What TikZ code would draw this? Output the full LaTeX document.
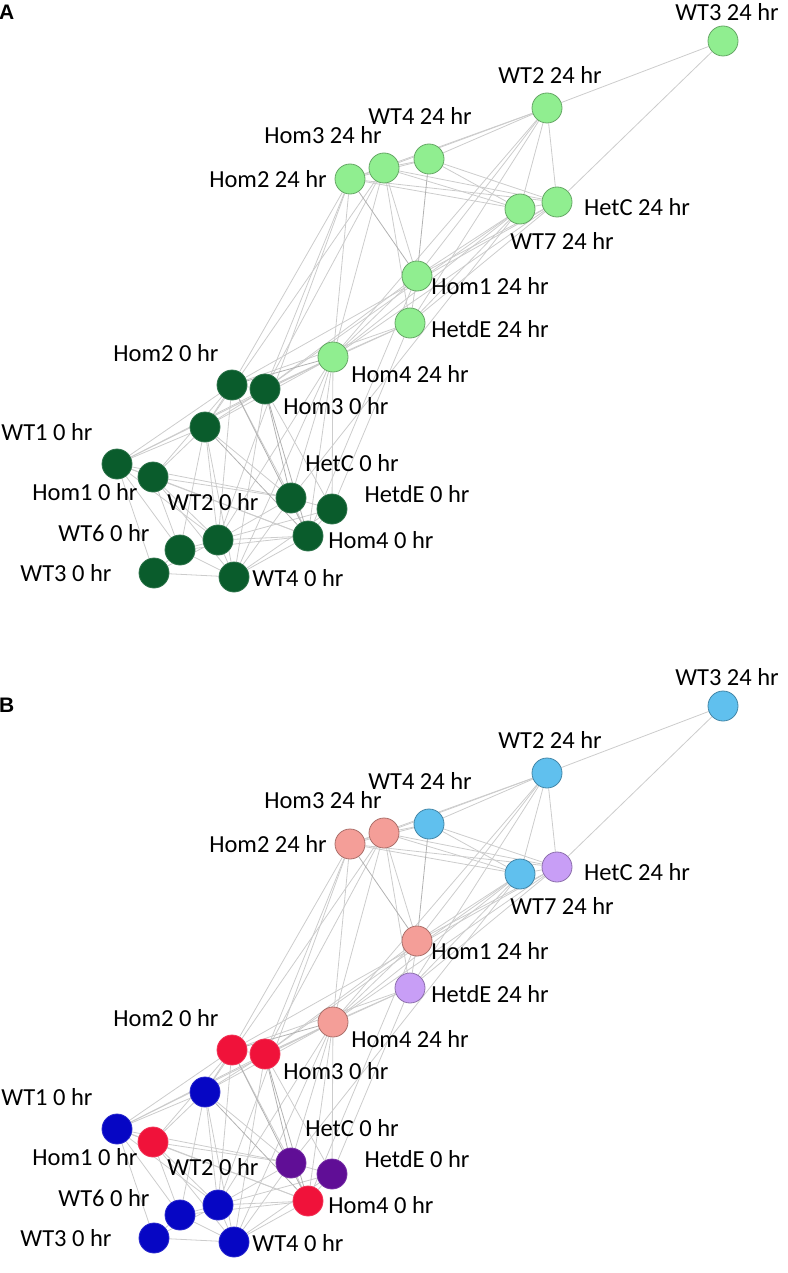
\documentclass[tikz,border=0pt]{standalone}
\usepackage{fontspec}
\setmainfont{Carlito}
\newfontfamily\panelfont{Liberation Sans}
\usetikzlibrary{backgrounds}

\definecolor{lgreen}{RGB}{144,238,144}
\definecolor{dgreen}{RGB}{10,92,44}
\definecolor{skyblue}{RGB}{96,192,238}
\definecolor{salmon}{RGB}{244,158,152}
\definecolor{lavender}{RGB}{200,158,246}
\definecolor{wtblue}{RGB}{6,6,196}
\definecolor{homred}{RGB}{240,18,58}
\definecolor{hetpurple}{RGB}{96,14,150}

% the network, drawn once per panel
\newcommand{\network}{%
  % 24 hr
  \node[wt24] (wt3-24) at (723,41) {};
  \node[wt24] (wt2-24) at (547,108) {};
  \node[wt24] (wt4-24) at (429,159) {};
  \node[hom24] (hom3-24) at (384,168) {};
  \node[hom24] (hom2-24) at (350,179) {};
  \node[wt24] (wt7-24) at (520,209) {};
  \node[het24] (hetc-24) at (557,202) {};
  \node[hom24] (hom1-24) at (417,276) {};
  \node[het24] (hetde-24) at (410,323) {};
  \node[hom24] (hom4-24) at (333,357) {};
  % 0 hr
  \node[hom0] (hom2-0) at (232,385) {};
  \node[hom0] (hom3-0) at (265,389) {};
  \node[wt0] (wtx-0) at (205,427) {};
  \node[wt0] (wt1-0) at (117,464) {};
  \node[hom0] (hom1-0) at (153,477) {};
  \node[het0] (hetc-0) at (291,498) {};
  \node[het0] (hetde-0) at (332,509) {};
  \node[hom0] (hom4-0) at (308,536) {};
  \node[wt0] (wt2-0) at (218,540) {};
  \node[wt0] (wt6-0) at (180,550) {};
  \node[wt0] (wt3-0) at (154,573) {};
  \node[wt0] (wt4-0) at (234,577) {};
  % labels
  \node[lab] (l-wt3-24) at (727,12) {WT3 24 hr};
  \node[lab] (l-wt2-24) at (550,75) {WT2 24 hr};
  \node[lab] (l-wt4-24) at (420,116) {WT4 24 hr};
  \node[lab] (l-hom3-24) at (323,135) {Hom3 24 hr};
  \node[lab] (l-hom2-24) at (268,179) {Hom2 24 hr};
  \node[lab] (l-hetc-24) at (637,207) {HetC 24 hr};
  \node[lab] (l-wt7-24) at (562,241) {WT7 24 hr};
  \node[lab] (l-hom1-24) at (490,286) {Hom1 24 hr};
  \node[lab] (l-hetde-24) at (490,329) {HetdE 24 hr};
  \node[lab] (l-hom4-24) at (410,374) {Hom4 24 hr};
  \node[lab] (l-hom2-0) at (166,353) {Hom2 0 hr};
  \node[lab] (l-hom3-0) at (336,406) {Hom3 0 hr};
  \node[lab] (l-wt1-0) at (47,432) {WT1 0 hr};
  \node[lab] (l-hetc-0) at (352,463) {HetC 0 hr};
  \node[lab] (l-hom1-0) at (85,492) {Hom1 0 hr};
  \node[lab] (l-hetde-0) at (417,494) {HetdE 0 hr};
  \node[lab] (l-wt2-0) at (213,502) {WT2 0 hr};
  \node[lab] (l-wt6-0) at (104,533) {WT6 0 hr};
  \node[lab] (l-hom4-0) at (381,540) {Hom4 0 hr};
  \node[lab] (l-wt3-0) at (66,573) {WT3 0 hr};
  \node[lab] (l-wt4-0) at (298,578) {WT4 0 hr};
  \begin{pgfonlayer}{background}
  \foreach \a/\b in {wt3-24/wt2-24, wt3-24/hetc-24,
      wt2-24/wt4-24, wt2-24/hom3-24, wt2-24/hom2-24, wt2-24/hetc-24, wt2-24/wt7-24,
      wt2-24/hom1-24, wt2-24/hetde-24, wt2-24/hom4-24,
      wt4-24/hom3-24, wt4-24/hom2-24, hom2-24/hom3-24,
      wt4-24/wt7-24, wt4-24/hetc-24, hom3-24/wt7-24, hom3-24/hetc-24,
      hom2-24/wt7-24, hom2-24/hetc-24, wt7-24/hetc-24,
      hom3-24/hom1-24, hom3-24/hetde-24, hom3-24/hom4-24,
      hom2-24/hom2-0, hom2-24/hom3-0, hom3-24/wtx-0, hom3-24/hom3-0, hom2-24/wt2-0,
      wt7-24/hom1-24, wt7-24/hetde-24, wt7-24/hom4-24, hetc-24/hom1-24,
      hetc-24/hetde-24, hetc-24/hom4-24, wt7-24/hom3-0, hetc-24/hom2-0, wt7-24/hetc-0,
      hom1-24/hetde-24, hom1-24/hom4-24, hetde-24/hom4-24, hom1-24/hom3-0,
      hetde-24/hom3-0, hetde-24/hom2-0, hetde-24/hetde-0, hom1-24/hom4-0,
      hom4-24/hom3-0, hom4-24/wtx-0, hom4-24/wt1-0, hom4-24/hetc-0,
      hom4-24/hetde-0, hom4-24/hom4-0, hom4-24/wt4-0, hom4-24/wt2-0,
      hom2-24/hom4-24,
      hom2-0/hom3-0, hom2-0/wtx-0, hom3-0/wtx-0, wt1-0/hom2-0, wt1-0/hom3-0,
      wt1-0/wtx-0, wt1-0/hom1-0, wt1-0/wt2-0, wt1-0/wt3-0, wt1-0/wt6-0,
      wt1-0/hom4-0, wt1-0/hetc-0,
      hom1-0/hetc-0, hom1-0/hom4-0, hom1-0/wt4-0, hom1-0/wt2-0, hom1-0/wt6-0,
      hom1-0/wtx-0, hom1-0/hom2-0,
      wtx-0/wt2-0, wtx-0/wt6-0, wtx-0/wt4-0, wtx-0/hetc-0,
      wt2-0/wt6-0, wt2-0/wt4-0, wt2-0/wt3-0, wt2-0/hom4-0, wt2-0/hetc-0, wt2-0/hetde-0,
      wt6-0/wt3-0, wt6-0/wt4-0, wt6-0/hom4-0, wt3-0/wt4-0, wt4-0/hom4-0,
      wt4-0/hetc-0, wt4-0/hetde-0,
      hetc-0/hom4-0, hetc-0/hetde-0, hetde-0/hom4-0, hom2-0/hetc-0, hom2-0/wt2-0,
      hom3-0/wt4-0, hom3-0/hetde-0}
    \draw[conn] (\a) -- (\b);
  \foreach \a/\b in {hom3-0/hetc-0, hom2-0/hom4-0, wtx-0/hom4-0, hom3-0/hom4-0,
      hom2-24/hom1-24, wt4-24/hom1-24, hom4-24/hom2-0}
    \draw[conn strong] (\a) -- (\b);
  \end{pgfonlayer}
}

\begin{document}
\begin{tikzpicture}[x=1pt, y=-1pt,
  nd/.style={circle, minimum size=30pt, inner sep=0pt, line width=0.8pt},
  lab/.style={inner sep=0pt, font=\fontsize{24.5}{28}\selectfont},
  panel/.style={anchor=west, inner sep=0pt, font=\panelfont\bfseries\fontsize{21}{24}\selectfont},
  conn/.style={black!20, line width=0.8pt},
  conn strong/.style={black!30, line width=0.8pt}]
\useasboundingbox (0,0) rectangle (787,1273);

\node[panel] (pa) at (-1,12) {A};
\begin{scope}[name prefix=A-,
  wt24/.style={nd, fill=lgreen, draw=lgreen!70!black},
  hom24/.style={nd, fill=lgreen, draw=lgreen!70!black},
  het24/.style={nd, fill=lgreen, draw=lgreen!70!black},
  wt0/.style={nd, fill=dgreen, draw=dgreen!85!white},
  hom0/.style={nd, fill=dgreen, draw=dgreen!85!white},
  het0/.style={nd, fill=dgreen, draw=dgreen!85!white}]
  \network
\end{scope}

\node[panel] (pb) at (-1,705) {B};
\begin{scope}[shift={(0,665)}, name prefix=B-,
  wt24/.style={nd, fill=skyblue, draw=skyblue!70!black},
  hom24/.style={nd, fill=salmon, draw=salmon!70!black},
  het24/.style={nd, fill=lavender, draw=lavender!70!black},
  wt0/.style={nd, fill=wtblue, draw=wtblue!85!white},
  hom0/.style={nd, fill=homred, draw=homred!85!white},
  het0/.style={nd, fill=hetpurple, draw=hetpurple!85!white}]
  \network
\end{scope}
\end{tikzpicture}
\end{document}
